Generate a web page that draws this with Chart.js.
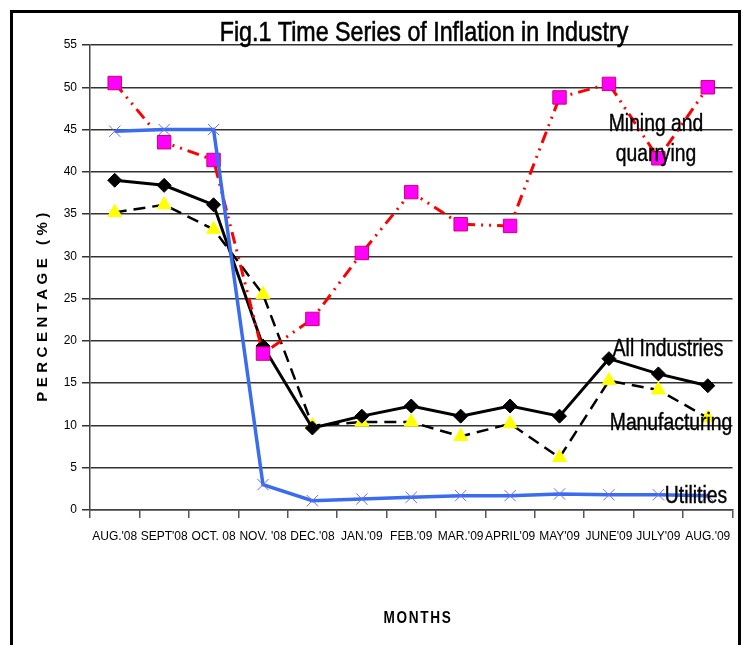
<!DOCTYPE html>
<html><head><meta charset="utf-8">
<script src="https://cdn.jsdelivr.net/npm/chart.js@4.4.1/dist/chart.umd.min.js"></script>
<style>html,body{margin:0;padding:0;background:#fff;overflow:hidden}canvas{display:block}</style>
</head><body>
<canvas id="c" width="743" height="645"></canvas>
<script>
const months = ["AUG.'08","SEPT'08","OCT. 08","NOV. '08","DEC.'08","JAN.'09","FEB.'09","MAR.'09","APRIL'09","MAY'09","JUNE'09","JULY'09","AUG.'09"];
const mining = [50.5, 43.5, 41.4, 18.5, 22.6, 30.4, 37.6, 33.8, 33.6, 48.8, 50.4, 41.6, 50.0];
const utilities = [44.8, 45.0, 45.0, 3.0, 1.1, 1.3, 1.5, 1.7, 1.7, 1.9, 1.8, 1.8, 1.7];
const allIndustries = [39.0, 38.4, 36.1, 19.4, 9.7, 11.1, 12.3, 11.1, 12.3, 11.1, 17.9, 16.1, 14.7];
const manufacturing = [35.2, 36.1, 33.2, 25.5, 10.0, 10.4, 10.4, 8.7, 10.2, 6.2, 15.3, 14.2, 10.9];
const yTicks = [0, 5, 10, 15, 20, 25, 30, 35, 40, 45, 50, 55];
const titleText = "Fig.1 Time Series of Inflation in Industry";
const yTitle = "PERCENTAGE (%)";
const xTitle = "MONTHS";
const seriesLabels = [
  {lines:["Mining and","quarrying"], x:656, y:125},
  {lines:["All Industries"], x:668, y:350},
  {lines:["Manufacturing"], x:671, y:424},
  {lines:["Utilities"], x:696, y:497}
];

const SANS = "'Liberation Sans',Arial,sans-serif";

function narrowText(ctx, text, x, y, font, sx, stroke) {
  ctx.save();
  ctx.translate(x, y);
  ctx.scale(sx, 1);
  ctx.font = font;
  ctx.fillText(text, 0, 0);
  if (stroke) {
    ctx.strokeStyle = '#000';
    ctx.lineWidth = stroke;
    ctx.strokeText(text, 0, 0);
  }
  ctx.restore();
}

const textPlugin = {
  id: 'texts',
  afterDraw(chart) {
    const ctx = chart.ctx;
    ctx.save();
    ctx.strokeStyle = '#000';
    ctx.lineWidth = 3;
    ctx.strokeRect(11.5, 11.5, 728, 650);
    ctx.fillStyle = '#000';
    ctx.textAlign = 'center';
    ctx.textBaseline = 'middle';
    narrowText(ctx, titleText, 424, 33, "28px " + SANS, 0.83, 0.6);
    seriesLabels.forEach(s => {
      s.lines.forEach((l, i) => narrowText(ctx, l, s.x, s.y + i * 30, "23px " + SANS, 0.84, 0.4));
    });
    ctx.save();
    if ('letterSpacing' in ctx) ctx.letterSpacing = '2px';
    narrowText(ctx, xTitle, 418, 619, "bold 16px " + SANS, 0.85, 0);
    ctx.restore();
    ctx.save();
    ctx.translate(43, 305);
    ctx.rotate(-Math.PI / 2);
    ctx.font = "bold 15px " + SANS;
    if ('letterSpacing' in ctx) ctx.letterSpacing = '4.5px';
    ctx.fillText(yTitle, 0, 0);
    ctx.restore();
    ctx.restore();
  }
};

new Chart(document.getElementById('c'), {
  type: 'line',
  data: {
    labels: months,
    datasets: [
      {label:'Utilities', data: utilities, borderColor:'#3a6cf0', borderWidth:3.5, tension:0,
       pointStyle:'crossRot', pointRadius:8, pointBorderColor:'#6a6af5', pointBorderWidth:1, pointBackgroundColor:'#6a6af5'},
      {label:'Mining and quarrying', data: mining, borderColor:'#ff0000', borderWidth:3, tension:0,
       borderDash:[12,6,2,6,2,6],
       pointStyle:'rect', pointRadius:9.5, pointBackgroundColor:'#ff00ff', pointBorderColor:'#d0006a', pointBorderWidth:1},
      {label:'All Industries', data: allIndustries, borderColor:'#000', borderWidth:3, tension:0,
       pointStyle:'rectRot', pointRadius:7, pointBackgroundColor:'#000', pointBorderColor:'#000', pointBorderWidth:1},
      {label:'Manufacturing', data: manufacturing, borderColor:'#000', borderWidth:2.5, tension:0,
       borderDash:[12,7],
       pointStyle:'triangle', pointRadius:8, pointBackgroundColor:'#ffff00', pointBorderColor:'#ffff00', pointBorderWidth:1}
    ]
  },
  options: {
    responsive: false,
    animation: false,
    layout: {padding: {top: 45, right: 8, left: 0, bottom: 0}},
    plugins: {legend: {display: false}, title: {display: false}, tooltip: {enabled: false}},
    scales: {
      x: {
        offset: true,
        grid: {offset: true, drawOnChartArea: false, drawTicks: true, tickLength: 8, color: '#555', lineWidth: 1.5},
        border: {color: '#444', width: 1.5},
        ticks: {autoSkip: false, maxRotation: 0, minRotation: 0, padding: 11, color: '#000',
                font: {family: SANS, size: 12}},
        afterFit(scale) { scale.height = 135; }
      },
      y: {
        min: 0, max: 55,
        afterBuildTicks(scale) { scale.ticks = yTicks.map(v => ({value: v})); },
        grid: {color: '#333', lineWidth: 1.5, tickLength: 8},
        border: {color: '#444', width: 1.5},
        ticks: {padding: 5, color: '#000', font: {family: SANS, size: 12}},
        afterFit(scale) { scale.width = 90; }
      }
    }
  },
  plugins: [textPlugin]
});
</script>
</body></html>
